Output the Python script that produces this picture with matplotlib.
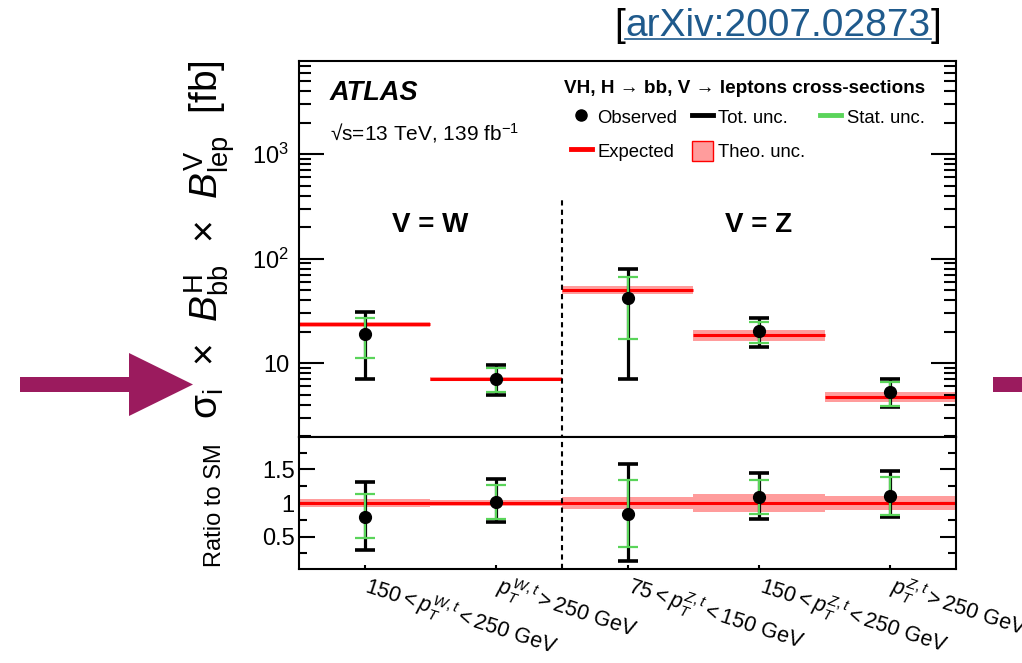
import numpy as np
import matplotlib
matplotlib.use('Agg')
from matplotlib import pyplot as plt
from matplotlib import transforms
from matplotlib.lines import Line2D
from matplotlib.patches import Patch, Polygon

plt.rcParams['font.family'] = ['Liberation Sans', 'DejaVu Sans']
plt.rcParams['mathtext.fontset'] = 'custom'
plt.rcParams['mathtext.rm'] = 'Liberation Sans'
plt.rcParams['mathtext.it'] = 'Liberation Sans:italic'
plt.rcParams['mathtext.bf'] = 'Liberation Sans:bold'
plt.rcParams['mathtext.sf'] = 'Liberation Sans'

# values (fb)
bin_labels = [r'$150 < p_{T}^{W,t} < 250$ GeV',
              r'$p_{T}^{W,t} > 250$ GeV',
              r'$75 < p_{T}^{Z,t} < 150$ GeV',
              r'$150 < p_{T}^{Z,t} < 250$ GeV',
              r'$p_{T}^{Z,t} > 250$ GeV']
observed = np.array([18.8, 7.1, 42.0, 20.2, 5.25])
tot_up = np.array([31.0, 9.5, 79.0, 26.8, 7.0])
tot_down = np.array([7.0, 5.0, 7.0, 14.1, 3.77])
stat_up = np.array([26.8, 8.9, 67.0, 24.9, 6.6])
stat_down = np.array([11.3, 5.3, 17.0, 15.4, 3.88])
expected = np.array([23.6, 7.0, 50.0, 18.5, 4.76])
theo_rel = np.array([0.055, 0.045, 0.085, 0.13, 0.11])

RED = '#ff0000'
BAND = '#ff9c9c'
GREEN = '#5ad45a'
ARROW = '#9b1b5e'
LINK = '#1f5a8c'

W, H = 1022, 663
fig = plt.figure(figsize=(W / 100, H / 100), dpi=100)


def px(x0, y0, x1, y1):
    # pixel box -> figure fraction rect
    return [x0 / W, 1 - y1 / H, (x1 - x0) / W, (y1 - y0) / H]


ax = fig.add_axes(px(299, 61, 956, 437))
rax = fig.add_axes(px(299, 437, 956, 569), sharex=ax)

n = len(observed)
edges = np.arange(n + 1)
centers = edges[:-1] + 0.5

# expected + theory band
for i in range(n):
    ax.fill_between(edges[i:i + 2], expected[i] * (1 - theo_rel[i]), expected[i] * (1 + theo_rel[i]),
                    color=BAND, lw=0, zorder=1)
    rax.fill_between(edges[i:i + 2], 1 - theo_rel[i], 1 + theo_rel[i], color=BAND, lw=0, zorder=1)
ax.hlines(expected, edges[:-1], edges[1:], color=RED, lw=2.2, zorder=2)
rax.axhline(1, color=RED, lw=2.2, zorder=2)


def draw_points(a, obs, tu, td, su, sd):
    a.errorbar(centers, obs, yerr=[obs - td, tu - obs], fmt='none', ecolor='black',
               elinewidth=2.3, capsize=7.5, capthick=2.6, zorder=3)
    a.errorbar(centers, obs, yerr=[obs - sd, su - obs], fmt='none', ecolor=GREEN,
               elinewidth=1.6, capsize=7.5, capthick=1.6, zorder=4)
    a.plot(centers, obs, 'o', color='black', ms=8.5, zorder=5)


draw_points(ax, observed, tot_up, tot_down, stat_up, stat_down)
draw_points(rax, observed / expected, tot_up / expected, tot_down / expected,
            stat_up / expected, stat_down / expected)

# W / Z separator
ax.vlines(2, 1.0, 363, color='black', lw=1.5, ls=(0, (2.5, 2)), zorder=2)
rax.axvline(2, color='black', lw=1.5, ls=(0, (2.5, 2)), zorder=2)

ax.set_yscale('log')
ax.set_ylim(1.96, 7800)
ax.set_xlim(0, n)
rax.set_ylim(0.015, 1.985)

ax.set_yticks([10, 100, 1000])
ax.set_yticklabels(['10', r'10$^{2}$', r'10$^{3}$'])
ax.tick_params(axis='y', which='major', direction='in', length=18, width=1.5, right=True, labelsize=17, pad=7)
ax.tick_params(axis='y', which='minor', direction='in', length=8.5, width=1.5, right=True)
ax.tick_params(axis='x', which='both', bottom=False, labelbottom=False)

rax.set_yticks([0.5, 1, 1.5])
rax.set_yticklabels(['0.5', '1', '1.5'])
rax.set_yticks([0.25, 0.75, 1.25, 1.75], minor=True)
rax.tick_params(axis='y', which='major', direction='in', length=11.5, width=1.5, right=True, labelsize=17, pad=3)
rax.tick_params(axis='y', which='minor', direction='in', length=5.5, width=1.5, right=True)
rax.set_xticks(centers)
rax.set_xticklabels(bin_labels, rotation=-18, ha='left', va='top', rotation_mode='anchor', fontsize=15.5)
rax.tick_params(axis='x', direction='in', length=3, width=1.5, pad=2)
shift = transforms.ScaledTranslation(0.06, 0, fig.dpi_scale_trans)
for lab in rax.get_xticklabels():
    lab.set_transform(lab.get_transform() + shift)

for a in (ax, rax):
    for s in a.spines.values():
        s.set_linewidth(1.5)

fig.text(210 / W, 1 - 60 / H,
         r'σ$_{\mathrm{i}}$  ×  $B^{\mathrm{H}}_{\mathrm{bb}}$  ×  $B^{\mathrm{V}}_{\mathrm{lep}}$  [fb]',
         rotation=90, ha='center', va='top', fontsize=28)
fig.text(215 / W, 1 - 505 / H, 'Ratio to SM', rotation=90, ha='center', va='center', fontsize=17)

ax.text(0.047, 0.915, 'ATLAS', transform=ax.transAxes, fontsize=19.5, fontweight='bold',
        fontstyle='italic', va='center')
ax.text(0.047, 0.808, '√s=13 TeV, 139 fb$^{\\mathregular{-1}}$', transform=ax.transAxes,
        fontsize=15, va='center')
ax.text(1.0, 210, 'V = W', ha='center', va='center', fontsize=20, fontweight='bold')
ax.text(3.5, 210, 'V = Z', ha='center', va='center', fontsize=20, fontweight='bold')

ax.text(0.678, 0.928, 'VH, H → bb, V → leptons cross-sections', transform=ax.transAxes,
        ha='center', va='center', fontsize=13.6, fontweight='bold')
handles = [Line2D([], [], marker='o', color='black', ls='none', ms=8),
           Line2D([], [], color=RED, lw=3.5),
           Line2D([], [], color='black', lw=3.5),
           Patch(facecolor=BAND, edgecolor=RED, lw=1),
           Line2D([], [], color=GREEN, lw=3.5)]
labels = ['Observed', 'Expected', 'Tot. unc.', 'Theo. unc.', 'Stat. unc.']
ax.legend(handles, labels, ncol=3, loc='upper right', bbox_to_anchor=(0.952, 0.879),
          frameon=False, fontsize=13.3,
          handlelength=1.13, handleheight=1.3, handletextpad=0.3, columnspacing=0.8,
          labelspacing=0.77, borderaxespad=0, borderpad=0)

# arrows at the sides
fig.add_artist(Polygon([(20 / W, 1 - 377 / H), (129 / W, 1 - 377 / H), (129 / W, 1 - 353 / H),
                        (193 / W, 1 - 384.5 / H), (129 / W, 1 - 416 / H), (129 / W, 1 - 392 / H),
                        (20 / W, 1 - 392 / H)], closed=True, facecolor=ARROW, edgecolor='none',
                       transform=fig.transFigure))
fig.add_artist(Polygon([(993 / W, 1 - 377 / H), (1022 / W, 1 - 377 / H), (1022 / W, 1 - 392 / H),
                        (993 / W, 1 - 392 / H)], closed=True, facecolor=ARROW, edgecolor='none',
                       transform=fig.transFigure))

# arXiv reference
renderer = fig.canvas.get_renderer()
link = fig.text(778 / W, 1 - 26 / H, 'arXiv:2007.02873', color=LINK, fontsize=28, ha='center', va='center')
bb = link.get_window_extent(renderer)
fig.text(bb.x0 / W, 1 - 26 / H, '[', fontsize=28, ha='right', va='center', color='black')
fig.text(bb.x1 / W, 1 - 26 / H, ']', fontsize=28, ha='left', va='center', color='black')
fig.add_artist(Line2D([bb.x0 / W, bb.x1 / W], [(bb.y0 + 5) / H] * 2, color=LINK, lw=1.2,
                      transform=fig.transFigure))

fig.savefig('out.png', dpi=100)
